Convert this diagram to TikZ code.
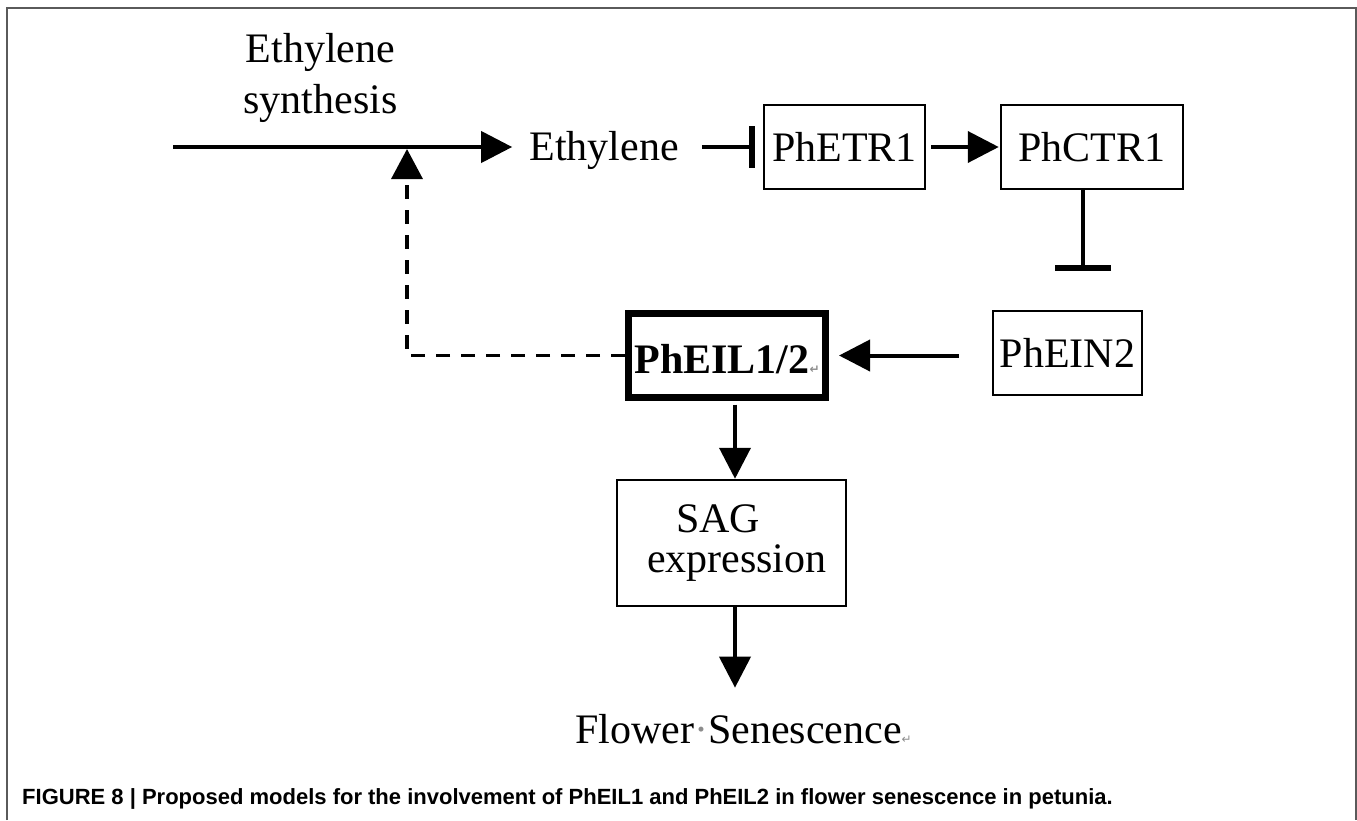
\documentclass[tikz,border=0pt]{standalone}
\usepackage{fontspec}
\setmainfont{Liberation Serif}
\newfontfamily\capfont{Liberation Sans}
\newfontfamily\markfont{DejaVu Sans}
\usetikzlibrary{arrows.meta}
\definecolor{framegray}{HTML}{5A5A5A}
\definecolor{markgray}{HTML}{8C8C8C}
\newcommand{\retmark}{{\markfont\fontsize{12}{12}\selectfont\textcolor{markgray}{↵}}}
\begin{document}
\begin{tikzpicture}[x=1pt,y=-1pt,
  every node/.style={font=\fontsize{42}{48}\selectfont, inner sep=0pt},
  genebox/.style={draw, line width=2.5pt, minimum height=84pt, text height=28pt, text depth=0pt},
  connector/.style={line width=4pt},
  act/.style={connector, -{Triangle[length=31pt,width=31pt]}},
  inh/.style={connector, -{Bar[width=#1,line width=6pt]}},
  inh/.default=42pt,
  fb/.style={line width=3.5pt, dash pattern=on 14pt off 11pt, -{Triangle[length=30pt,width=31pt]}},
]
\useasboundingbox (0,0) rectangle (1357,820);
\draw[framegray, line width=2pt] (7,820) -- (7,8) -- (1356,8) -- (1356,820);

% nodes
\node (syn) at (320.5,77.7) [align=center, font=\fontsize{42}{51}\selectfont] {Ethylene\\synthesis};
\coordinate (start) at (173,147);
\coordinate (join) at (407,147);
\node (eth) [anchor=base] at (604,160) {Ethylene};
\node[genebox, minimum width=161pt] (etr) at (844.5,147) {PhETR1};
\node[genebox, minimum width=182pt] (ctr) at (1092,147) {PhCTR1};
\node[genebox, minimum width=149pt] (ein) at (1067.5,353) {PhEIN2};
\node[draw, line width=7pt, minimum width=197pt, minimum height=84pt, text height=35pt, text depth=0pt,
      font=\bfseries\fontsize{42}{48}\selectfont] (eil) at (727,355.5) {PhEIL1/2\retmark};
\node[draw, line width=2.5pt, text width=229pt, minimum height=126pt, align=left,
      font=\fontsize{42}{40}\selectfont] (sag) at (731.5,543) {\hspace*{59pt}SAG\\\hspace*{30pt}expression};
\node (flw) [anchor=base west] at (575,743) {Flower{\color{markgray}·}Senescence\retmark};
\node (cap) [anchor=base west, font=\capfont\bfseries\fontsize{22}{26}\selectfont] at (22,804)
  {FIGURE 8 | Proposed models for the involvement of PhEIL1 and PhEIL2 in flower senescence in petunia.};

% connectors
\draw[act, shorten >=17pt] (start) -- (start -| eth.west);
\draw[fb, shorten >=2pt] (eil.west) -| (join);
\draw[inh, shorten <=23pt, shorten >=8pt] (eth.east |- etr.west) -- (etr.west);
\draw[act, shorten <=5pt, shorten >=1pt] (etr.east) -- (ctr.west);
\draw[inh=56pt, shorten >=39pt] ([xshift=-9pt]ctr.south) -- ([xshift=-9pt]ctr.south |- ein.north);
\draw[act, shorten <=33pt, shorten >=10pt] (ein.west |- eil.east) -- (eil.east);
\draw[act, shorten <=3.5pt] ([xshift=8pt]eil.south) -- ([xshift=8pt]eil.south |- sag.north);
\draw[act, shorten >=26pt] ([xshift=3.5pt]sag.south) -- ([xshift=3.5pt]sag.south |- flw.north);
\end{tikzpicture}
\end{document}
